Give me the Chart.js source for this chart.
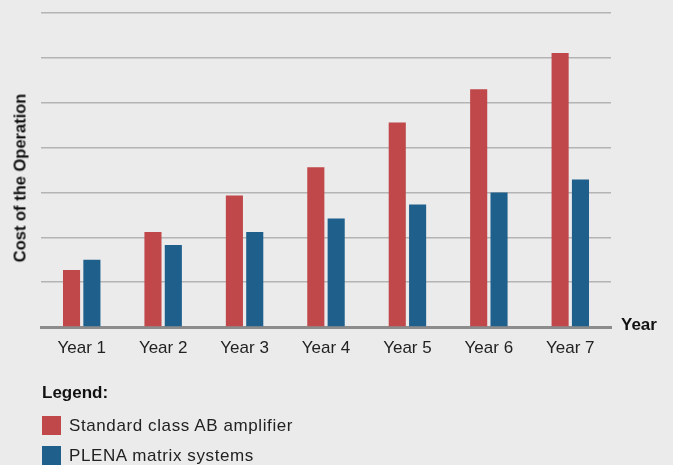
<!DOCTYPE html>
<html>
<head>
<meta charset="utf-8">
<script src="https://cdn.jsdelivr.net/npm/chart.js@4"></script>
<style>
  html, body { margin: 0; padding: 0; background: #ebebeb; }
  #wrap { position: relative; width: 673px; height: 465px; overflow: hidden; font-family: "Liberation Sans", Arial, sans-serif; color: #1a1a1a; }
  #myChart { position: absolute; left: 0; top: 0; }
  .ytitle { position: absolute; left: 20px; top: 178px; transform: translate(-50%, -50%) rotate(-90deg); white-space: nowrap; font-weight: bold; font-size: 16.5px; color: #111; }
  .xtitle { position: absolute; left: 621px; top: 315px; font-weight: bold; font-size: 17px; color: #111; }
  .legend { position: absolute; left: 42px; top: 383px; font-size: 17px; letter-spacing: 0.6px; }
  .legend .head { font-weight: bold; font-size: 17px; letter-spacing: 0; margin-bottom: 13px; color: #111; }
  .legend .item { display: flex; align-items: center; height: 19px; margin-bottom: 11px; color: #222; }
  .legend .sw { width: 19px; height: 19px; margin-right: 8px; }
</style>
</head>
<body>
<div id="wrap">
  <canvas id="myChart" width="673" height="465"></canvas>
  <div class="ytitle">Cost of the Operation</div>
  <div class="xtitle">Year</div>
  <div class="legend">
    <div class="head">Legend:</div>
    <div class="item"><div class="sw" style="background:#c0474a"></div>Standard class AB amplifier</div>
    <div class="item"><div class="sw" style="background:#1f5f8b"></div>PLENA matrix systems</div>
  </div>
</div>
<script>
const labels = ["Year 1", "Year 2", "Year 3", "Year 4", "Year 5", "Year 6", "Year 7"];
const standardAB = [1.27, 2.12, 2.93, 3.56, 4.56, 5.30, 6.11];
const plena = [1.50, 1.83, 2.12, 2.42, 2.73, 3.00, 3.29];

const data = {
  labels: labels,
  datasets: [
    {
      label: "Standard class AB amplifier",
      backgroundColor: "#c0474a",
      data: standardAB,
    },
    {
      label: "PLENA matrix systems",
      backgroundColor: "#1f5f8b",
      data: plena,
    },
  ],
};

const options = {
  responsive: false,
  animation: false,
  layout: { padding: { top: 13, right: 62, left: 0, bottom: 0 } },
  plugins: { legend: { display: false }, tooltip: { enabled: false } },
  datasets: { bar: { categoryPercentage: 0.5, barPercentage: 0.84 } },
  scales: {
    x: {
      grid: { display: false },
      border: { color: "#8c8c8c", width: 3 },
      ticks: { color: "#222", font: { family: "Liberation Sans", size: 17 }, padding: 3 },
      afterFit: (scale) => { scale.height = 465 - 327; }
    },
    y: {
      min: 0,
      max: 7,
      ticks: { display: false, stepSize: 1 },
      grid: { color: "#b4b4b4", lineWidth: 1.5, drawTicks: false },
      border: { display: false },
      afterFit: (scale) => { scale.width = 41; }
    }
  }
};

const config = { type: "bar", data: data, options: options };
const myChart = new Chart(document.getElementById("myChart"), config);
</script>
</body>
</html>
